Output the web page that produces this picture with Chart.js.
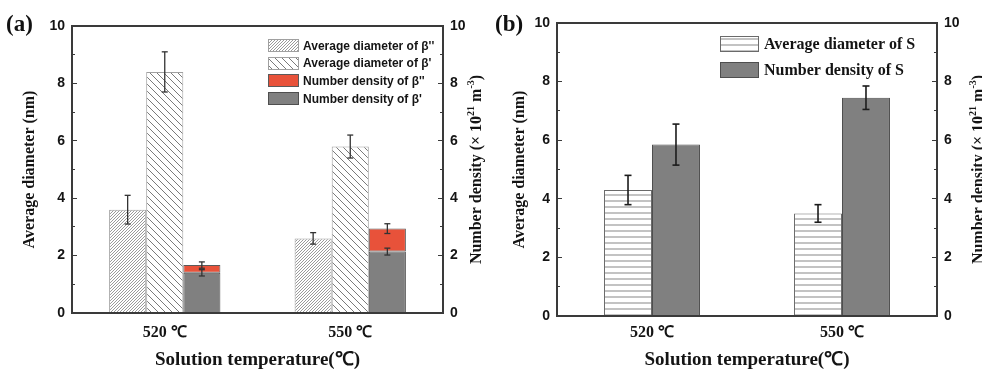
<!DOCTYPE html>
<html>
<head>
<meta charset="utf-8">
<script src="https://cdn.jsdelivr.net/npm/chart.js@4.4.1/dist/chart.umd.min.js"></script>
<style>
  html, body { margin: 0; padding: 0; background: #fff; width: 982px; height: 371px; overflow: hidden; }
  .panel { position: absolute; top: 0; height: 371px; }
  .panel canvas { position: absolute; left: 0; top: 0; }
  .ax { position: absolute; background: #3a3a3a; z-index: 2; pointer-events: none; }
  .tag { position: absolute; top: 12px; font: bold 23px "Liberation Serif", serif; line-height: 23px; color: #111; z-index: 3; }
</style>
</head>
<body>
<div class="panel" id="panel-a" style="left:0; width:490px">
  <canvas id="chart-a" width="490" height="371"></canvas>
</div>
<div class="panel" id="panel-b" style="left:490px; width:510px">
  <canvas id="chart-b" width="510" height="371"></canvas>
</div>
<div class="tag" style="left:6px">(a)</div>
<div class="tag" style="left:495px">(b)</div>
<script>
// Two-panel precipitate chart: (a) β''/β' phases, (b) S phase.

const categories = ['520 ℃', '550 ℃'];
const axisMin = 0, axisMax = 10, axisStep = 1;

// panel (a) — diameter on left axis (nm), number density on right axis (×10^21 m^-3)
const diaBeta2 = [3.6, 2.6];
const diaBeta2Err = [0.5, 0.2];
const diaBeta1 = [8.4, 5.8];
const diaBeta1Err = [0.7, 0.4];
const denBeta1 = [1.4, 2.14];
const denBeta1Err = [0.11, 0.12];
const denBeta2 = [0.27, 0.8];      // stacked on top of β'
const denBeta2Err = [0.11, 0.17];

// panel (b)
const diaS = [4.3, 3.5];
const diaSErr = [0.5, 0.3];
const denS = [5.85, 7.45];
const denSErr = [0.7, 0.4];

const INK = '#141414';

function hatch(dir, size, color, lw) {
  const c = document.createElement('canvas');
  c.width = c.height = size;
  const g = c.getContext('2d');
  g.fillStyle = '#fff';
  g.fillRect(0, 0, size, size);
  g.strokeStyle = color;
  g.lineWidth = lw;
  g.beginPath();
  if (dir === 'h') {
    g.moveTo(0, size / 2); g.lineTo(size, size / 2);
  } else {
    for (const k of [-size, 0, size]) {
      if (dir === '/') { g.moveTo(k, size); g.lineTo(k + size, 0); }
      else { g.moveTo(k, 0); g.lineTo(k + size, size); }
    }
  }
  g.stroke();
  return g.createPattern(c, 'repeat');
}

const errorBars = {
  id: 'errorBars',
  afterDatasetsDraw(chart, args, o) {
    const ctx = chart.ctx;
    ctx.save();
    ctx.fillStyle = o.color;
    const w = o.width;
    chart.data.datasets.forEach((ds, i) => {
      if (!ds.errors) return;
      const meta = chart.getDatasetMeta(i);
      const s = meta.vScale;
      meta.data.forEach((bar, j) => {
        const d = Math.abs(s.getPixelForValue(ds.errors[j]) - s.getPixelForValue(0));
        const x = bar.x, y = bar.y, c = o.cap;
        ctx.fillRect(x - w / 2, y - d, w, 2 * d);
        ctx.fillRect(x - c, y - d - w / 2, 2 * c, w);
        ctx.fillRect(x - c, y + d - w / 2, 2 * c, w);
      });
    });
    ctx.restore();
  }
};

const boxLegend = {
  id: 'boxLegend',
  afterDraw(chart, args, o) {
    const ctx = chart.ctx;
    ctx.save();
    ctx.font = o.font;
    ctx.textBaseline = 'middle';
    o.order.forEach((idx, r) => {
      const ds = chart.data.datasets[idx];
      const y = o.y + r * o.rowH;
      const top = Math.round(y - o.boxH / 2);
      ctx.fillStyle = ds.borderColor;
      ctx.fillRect(o.x, top, o.boxW, o.boxH);
      ctx.fillStyle = ds.backgroundColor;
      ctx.fillRect(o.x + 1, top + 1, o.boxW - 2, o.boxH - 2);
      ctx.fillStyle = INK;
      ctx.fillText(ds.label, o.x + o.boxW + o.gap, y + 1);
    });
    ctx.restore();
  }
};

// right axis title reads bottom-to-top, with superscripts
const sideTitle = {
  id: 'sideTitle',
  afterDraw(chart, args, o) {
    const { ctx, chartArea: a } = chart;
    ctx.save();
    ctx.translate(o.x, (a.top + a.bottom) / 2);
    ctx.rotate(-Math.PI / 2);
    ctx.textBaseline = 'middle';
    ctx.fillStyle = INK;
    const ws = o.parts.map(([t, sup]) => { ctx.font = sup ? o.supFont : o.font; return ctx.measureText(t).width; });
    let x = -ws.reduce((s, w) => s + w, 0) / 2;
    o.parts.forEach(([t, sup], i) => {
      ctx.font = sup ? o.supFont : o.font;
      ctx.fillText(t, x, sup ? -6 : 0);
      x += ws[i];
    });
    ctx.restore();
  }
};

// plot box and inward ticks (major every 2, minor every 1), placed from the chart's own area and scales
function addAxesBox(chart, panelId) {
  const host = document.getElementById(panelId);
  const seg = (l, t, w, h) => {
    const d = document.createElement('div');
    d.className = 'ax';
    d.style.cssText = `left:${l}px;top:${t}px;width:${w}px;height:${h}px`;
    host.appendChild(d);
  };
  const a = chart.chartArea;
  const lw = 1.5;
  seg(a.left - lw / 2, a.top - lw / 2, a.right - a.left + lw, lw);
  seg(a.left - lw / 2, a.bottom - lw / 2, a.right - a.left + lw, lw);
  seg(a.left - lw / 2, a.top - lw / 2, lw, a.bottom - a.top + lw);
  seg(a.right - lw / 2, a.top - lw / 2, lw, a.bottom - a.top + lw);
  ['y', 'y1'].forEach(id => {
    const s = chart.scales[id];
    s.ticks.forEach(t => {
      const y = s.getPixelForValue(t.value);
      const len = Math.round(t.value) % 2 === 0 ? 5 : 3;
      if (id === 'y') seg(a.left, y - 0.6, len, 1.2);
      else seg(a.right - len, y - 0.6, len, 1.2);
    });
  });
}

function yAxis(position, width, title) {
  return {
    position, min: axisMin, max: axisMax,
    afterFit: s => { s.width = width; },
    grid: { display: false, drawTicks: false },
    border: { display: false },
    ticks: {
      stepSize: axisStep, autoSkip: false, padding: 7, color: INK,
      font: { family: 'Liberation Sans', weight: 'bold', size: 14 },
      callback: v => (v % 2 === 0 ? v : ''),
    },
    title: title
      ? { display: true, text: title, color: INK, padding: { top: 20, bottom: 0 },
          font: { family: 'Liberation Serif', weight: 'bold', size: 16 } }
      : { display: false },
  };
}

function xAxis(height, tickPad) {
  return {
    offset: true,
    afterFit: s => { s.height = height; },
    grid: { display: false, drawTicks: false },
    border: { display: false },
    ticks: { padding: tickPad, color: INK, font: { family: 'Liberation Serif', weight: 'bold', size: 16 } },
    title: {
      display: true, text: 'Solution temperature(℃)', color: INK, padding: { top: 0, bottom: 0 },
      font: { family: 'Liberation Serif', weight: 'bold', size: 19 },
    },
  };
}

const rightTitleParts = [['Number density (× 10', false], ['21', true], [' m', false], ['-3', true], [')', false]];

const chartA = new Chart(document.getElementById('chart-a'), {
  type: 'bar',
  data: {
    labels: categories,
    datasets: [
      { label: "Average diameter of β''", data: diaBeta2, errors: diaBeta2Err, stack: 'a', yAxisID: 'y',
        backgroundColor: hatch('/', 3, '#9a9a9a', 1), borderColor: '#a0a0a0' },
      { label: "Average diameter of β'", data: diaBeta1, errors: diaBeta1Err, stack: 'b', yAxisID: 'y',
        backgroundColor: hatch('\\', 7, '#7a7a7a', 1), borderColor: '#a0a0a0' },
      { label: "Number density of β'", data: denBeta1, errors: denBeta1Err, stack: 'c', yAxisID: 'y1',
        backgroundColor: '#808080', borderColor: '#4e4e4e' },
      { label: "Number density of β''", data: denBeta2, errors: denBeta2Err, stack: 'c', yAxisID: 'y1',
        backgroundColor: '#e8523a', borderColor: '#5a5a5a' },
    ],
  },
  options: {
    responsive: false, animation: false,
    layout: { padding: { top: 26, left: 0, right: 0, bottom: 0 } },
    datasets: { bar: { categoryPercentage: 0.6, barPercentage: 1, borderWidth: 1, borderSkipped: false } },
    plugins: {
      legend: { display: false }, tooltip: { enabled: false },
      errorBars: { color: '#333', width: 1.3, cap: 3 },
      boxLegend: { x: 268, y: 45.5, rowH: 17.6, boxW: 31, boxH: 13, gap: 4, order: [0, 1, 3, 2],
        font: 'bold 12px "Liberation Sans", sans-serif' },
      sideTitle: { x: 477, parts: rightTitleParts,
        font: 'bold 16px "Liberation Serif", serif', supFont: 'bold 10px "Liberation Serif", serif' },
    },
    scales: { x: xAxis(58, 10), y: yAxis('left', 72, 'Average diameter (nm)'), y1: yAxis('right', 47) },
  },
  plugins: [errorBars, boxLegend, sideTitle],
});
addAxesBox(chartA, 'panel-a');

const chartB = new Chart(document.getElementById('chart-b'), {
  type: 'bar',
  data: {
    labels: categories,
    datasets: [
      { label: 'Average diameter of S', data: diaS, errors: diaSErr, stack: 'a', yAxisID: 'y',
        backgroundColor: hatch('h', 6, '#9a9a9a', 1.2), borderColor: '#6a6a6a' },
      { label: 'Number density of S', data: denS, errors: denSErr, stack: 'b', yAxisID: 'y1',
        backgroundColor: '#808080', borderColor: '#4e4e4e' },
    ],
  },
  options: {
    responsive: false, animation: false,
    layout: { padding: { top: 23, left: 0, right: 0, bottom: 0 } },
    datasets: { bar: { categoryPercentage: 0.505, barPercentage: 1, borderWidth: 1, borderSkipped: false } },
    plugins: {
      legend: { display: false }, tooltip: { enabled: false },
      errorBars: { color: '#1c1c1c', width: 1.6, cap: 3.5 },
      boxLegend: { x: 230, y: 44, rowH: 26, boxW: 39, boxH: 16, gap: 5, order: [0, 1],
        font: 'bold 16px "Liberation Serif", serif' },
      sideTitle: { x: 489, parts: rightTitleParts,
        font: 'bold 16px "Liberation Serif", serif', supFont: 'bold 10px "Liberation Serif", serif' },
    },
    scales: { x: xAxis(55, 7.5), y: yAxis('left', 67, 'Average diameter (nm)'), y1: yAxis('right', 63) },
  },
  plugins: [errorBars, boxLegend, sideTitle],
});
addAxesBox(chartB, 'panel-b');
</script>
</body>
</html>
